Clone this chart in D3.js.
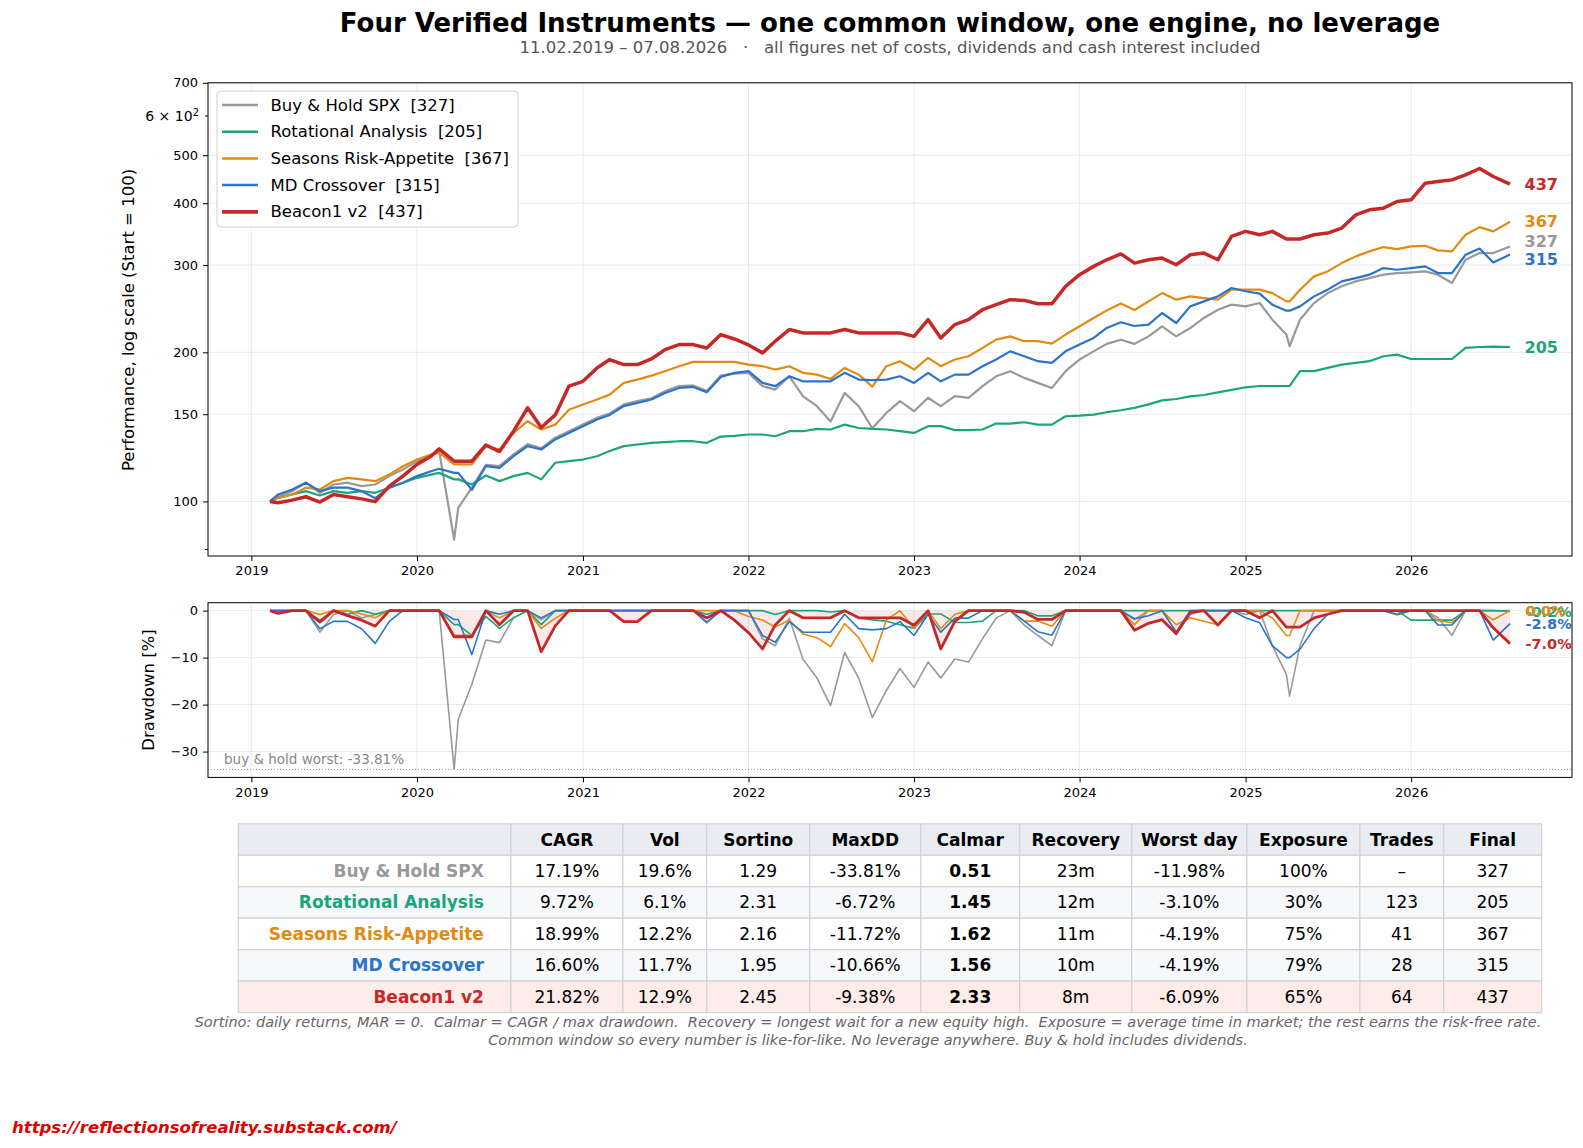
<!DOCTYPE html>
<html>
<head>
<meta charset="utf-8">
<script src="https://cdn.jsdelivr.net/npm/d3@7"></script>
<style>
body { margin: 0; background: #fff; }
svg { display: block; font-family: "DejaVu Sans", sans-serif; }
svg text { white-space: pre; }
</style>
</head>
<body>
<svg id="chart" width="1583" height="1148"></svg>
<script>
// values, roughly monthly plus a few turning points
var dates = ["2019-02-11","2019-03-01","2019-04-01","2019-05-01","2019-06-01","2019-07-01","2019-08-01","2019-09-01","2019-10-01","2019-11-01","2019-12-01",
  "2020-01-01","2020-02-01","2020-02-19","2020-03-23","2020-04-01","2020-05-01","2020-06-01","2020-07-01","2020-08-01","2020-09-01","2020-10-01","2020-11-01","2020-12-01",
  "2021-01-01","2021-02-01","2021-03-01","2021-04-01","2021-05-01","2021-06-01","2021-07-01","2021-08-01","2021-09-01","2021-10-01","2021-11-01","2021-12-01",
  "2022-01-01","2022-02-01","2022-03-01","2022-04-01","2022-05-01","2022-06-01","2022-07-01","2022-08-01","2022-09-01","2022-10-01","2022-11-01","2022-12-01",
  "2023-01-01","2023-02-01","2023-03-01","2023-04-01","2023-05-01","2023-06-01","2023-07-01","2023-08-01","2023-09-01","2023-10-01","2023-11-01","2023-12-01",
  "2024-01-01","2024-02-01","2024-03-01","2024-04-01","2024-05-01","2024-06-01","2024-07-01","2024-08-01","2024-09-01","2024-10-01","2024-11-01","2024-12-01",
  "2025-01-01","2025-02-01","2025-03-01","2025-04-01","2025-04-08","2025-05-01","2025-06-01","2025-07-01","2025-08-01","2025-09-01","2025-10-01","2025-11-01","2025-12-01",
  "2026-01-01","2026-02-01","2026-03-01","2026-04-01","2026-05-01","2026-06-01","2026-07-01","2026-08-07"];

var spxValues = [100,102.2,104.9,109.1,104.1,108.2,109.1,107.4,108.2,112.5,116,
  120.6,123.4,126.4,83.7,97.1,106.6,118.5,117.8,124.5,130.5,128,134.5,138.5,
  143,147.5,150.5,157,159.5,161.5,167,171,171.5,167,179.5,181.2,
  181.8,170.9,168.2,178.9,163.1,155.7,145,165.6,155.7,140.5,150.9,159.4,
  152.1,161.9,155.7,163.1,161.9,170.9,178.9,183.2,177.6,173.5,169.5,183.2,
  193.4,200.9,208,212,208,215.4,225.7,215.4,223.9,234.6,243.8,249.6,
  247.6,251.5,232.8,217.2,205.7,232.8,251.5,263.4,271.8,278.1,282.4,286.9,289.1,
  290,291.3,286.9,276,307.5,317.2,317.2,327];

var rotationalValues = [100,101.7,103.3,104.9,102.8,104.9,104.1,104.9,104.1,106.6,109.1,
  111.6,113.3,114.2,110.8,110.8,108.2,112.8,109.9,112.5,114.2,110.8,119.7,120.6,
  121.5,123.4,126.4,129.3,130.3,131.3,131.7,132.3,132.3,131.3,135.2,135.6,
  136.5,136.5,135.4,138.6,138.6,140.1,139.7,142.9,140.7,140.1,139.7,138.6,
  137.5,141.9,141.9,139.3,139.3,139.7,143.6,143.6,144.5,142.9,142.9,148.6,
  149,149.7,151.4,152.8,154.5,157,160,161,163,164,166,168,
  170,171,171,171,171,183.2,183.2,186,188.9,190.4,191.9,196.4,197.9,
  193.9,193.9,193.9,193.9,204.2,205,205.4,205];

var seasonsValues = [100,101.7,103.3,106.6,105.7,109.9,111.6,110.8,109.9,113.3,117.8,
  121.5,124.4,125.4,118.8,118.8,118.8,129.3,127.3,137.5,145.2,139.7,142.9,153.2,
  156.9,160.6,164.3,173.5,176.2,179.5,183.2,187.5,191.3,191.3,191.3,191.3,
  188.9,187.5,184.6,187.5,181.8,180.3,176.7,186,180.3,170.5,187.5,191.9,
  184.6,194.9,187.5,193.4,196.4,204.1,212.2,215.4,210.6,210.6,208.2,217.2,
  225.7,234.6,243,251,243.5,253.4,263.4,255.5,259.4,257.4,255.5,267.6,
  267.6,267.6,263.4,253.4,253.4,267.6,284.7,291.3,302.8,312.4,319.7,326.2,323.2,
  327.2,328.2,321.2,319.7,345.5,357.9,350.9,367];

var mdValues = [100,103.3,105.7,109.1,104.9,106.6,106.6,104.9,101.5,106.6,109.1,
  112.5,115.1,116.4,114.2,114.2,105.5,117.8,116.9,123.4,129.3,127.3,133.4,137.5,
  141.9,146.3,149.5,155.7,158.1,160.6,165.6,169.5,170.3,166.1,178.4,181.8,
  183.2,173.5,170.9,178.9,174.8,174.8,174.8,181.8,176.2,175.7,176.2,178.9,
  173.5,181.8,174.8,180.3,180.3,187.5,193.4,200.9,196.4,191.9,190.4,200.9,
  207.3,213.8,224,230,226,227.5,240.1,229.2,247.6,253.4,259.4,269.7,
  265.6,262.7,249.6,242.7,242.7,247.6,259.4,267.6,278.1,282.4,286.9,295.9,293.6,
  295.9,298.2,289.1,289.1,314.8,324,303.7,315];

var beaconValues = [100,99.4,100.6,102.2,99.7,103.3,102.2,101.2,99.9,107.4,112.5,
  118.8,123.4,127.7,120.6,120.6,120.6,130,126.1,138.6,154.5,141,149.5,170.9,
  174.8,186,193.4,188.9,188.9,193.9,202.5,207.3,207.3,204.1,217.2,212.8,
  207,199.5,210.6,222.3,218.9,218.9,218.9,222.3,218.9,218.9,218.9,218.9,
  215.4,232.8,213.8,227.5,232.8,243.8,249.6,255.5,254.6,250.7,250.7,271.8,
  286.9,298.2,307.5,316,302.8,307.5,309.9,300.5,314.8,317.2,307.5,342.7,
  350.9,345.5,350.9,338.6,338.6,338.6,345.5,348.2,356.3,378.9,387.8,390.9,403.1,
  406.3,438.9,442.3,445.8,456.3,470,452.8,437];

var seriesNames = ["Buy & Hold SPX", "Rotational Analysis", "Seasons Risk-Appetite", "MD Crossover", "Beacon1 v2"];
var seriesColors = ["#999999", "#1aa67a", "#e38a12", "#2a74cb", "#c62828"];

var metricColumns = ["CAGR", "Vol", "Sortino", "MaxDD", "Calmar", "Recovery", "Worst day", "Exposure", "Trades", "Final"];
var spxStats        = ["17.19%", "19.6%", "1.29", "-33.81%", "0.51", "23m", "-11.98%", "100%", "\u2013", "327"];
var rotationalStats = ["9.72%", "6.1%", "2.31", "-6.72%", "1.45", "12m", "-3.10%", "30%", "123", "205"];
var seasonsStats    = ["18.99%", "12.2%", "2.16", "-11.72%", "1.62", "11m", "-4.19%", "75%", "41", "367"];
var mdStats         = ["16.60%", "11.7%", "1.95", "-10.66%", "1.56", "10m", "-4.19%", "79%", "28", "315"];
var beaconStats     = ["21.82%", "12.9%", "2.45", "-9.38%", "2.33", "8m", "-6.09%", "65%", "64", "437"];

var yTicks = [100, 150, 200, 300, 400, 500, 700];
var ddTicks = [0, -10, -20, -30];

var parse = d3.timeParse("%Y-%m-%d");
var dd = dates.map(parse);
var allValues = [spxValues, rotationalValues, seasonsValues, mdValues, beaconValues];
var allStats = [spxStats, rotationalStats, seasonsStats, mdStats, beaconStats];

function drawdown(vals) {
  var peak = -Infinity;
  return vals.map(function (v) { peak = Math.max(peak, v); return (v / peak - 1) * 100; });
}

var series = seriesNames.map(function (n, i) {
  var vals = allValues[i];
  return {
    name: n, color: seriesColors[i], width: i === 4 ? 3.5 : 2.2, ddWidth: i === 4 ? 2.8 : 1.6,
    points: vals.map(function (v, k) { return { date: dd[k], v: v }; }),
    dd: drawdown(vals).map(function (v, k) { return { date: dd[k], v: v }; })
  };
});

var svg = d3.select("#chart");
var L = 208, R = 1572;
var t0 = dd[0], t1 = dd[dd.length - 1], span = t1 - t0;
var x = d3.scaleTime().domain([new Date(+t0 - 0.05 * span), new Date(+t1 + 0.05 * span)]).range([L, R]);
var y = d3.scaleLog().domain([77.6, 700]).range([556, 82.8]);
var yd = d3.scaleLinear().domain([-35.5, 1.69]).range([777.4, 602.7]);
var years = d3.range(2019, 2027).map(function (yr) { return new Date(yr, 0, 1); });

var defs = svg.append("defs");
defs.append("clipPath").attr("id", "clipMain").append("rect")
  .attr("x", L).attr("y", 82.8).attr("width", R - L).attr("height", 556 - 82.8);
defs.append("clipPath").attr("id", "clipDD").append("rect")
  .attr("x", L).attr("y", 602.7).attr("width", R - L).attr("height", 777.4 - 602.7);

// title
svg.append("text").attr("x", 890).attr("y", 22.5).attr("text-anchor", "middle").attr("dominant-baseline", "central")
  .style("font-size", "26px").style("font-weight", "bold")
  .text("Four Verified Instruments \u2014 one common window, one engine, no leverage");
svg.append("text").attr("x", 890).attr("y", 47).attr("text-anchor", "middle").attr("dominant-baseline", "central")
  .style("font-size", "16.5px").attr("fill", "#555")
  .text("11.02.2019 \u2013 07.08.2026   \u00b7   all figures net of costs, dividends and cash interest included");

// ---------- main panel ----------
var gMain = svg.append("g");
gMain.selectAll(".gx").data(years).enter().append("line")
  .attr("x1", function (d) { return x(d); }).attr("x2", function (d) { return x(d); })
  .attr("y1", 82.8).attr("y2", 556).attr("stroke", "#e4e4e4").attr("stroke-width", 0.8);
gMain.selectAll(".gy").data(yTicks).enter().append("line")
  .attr("x1", L).attr("x2", R).attr("y1", function (d) { return y(d); }).attr("y2", function (d) { return y(d); })
  .attr("stroke", "#e4e4e4").attr("stroke-width", 0.8);

var line = d3.line().x(function (d) { return x(d.date); }).y(function (d) { return y(d.v); });
gMain.append("g").attr("clip-path", "url(#clipMain)").selectAll("path").data(series).enter().append("path")
  .attr("d", function (d) { return line(d.points); })
  .attr("fill", "none").attr("stroke", function (d) { return d.color; })
  .attr("stroke-width", function (d) { return d.width; }).attr("stroke-linejoin", "round");

gMain.append("rect").attr("x", L).attr("y", 82.8).attr("width", R - L).attr("height", 556 - 82.8)
  .attr("fill", "none").attr("stroke", "#000").attr("stroke-width", 1);

var xAxisMain = gMain.append("g").attr("transform", "translate(0,556)")
  .call(d3.axisBottom(x).tickValues(years).tickFormat(d3.timeFormat("%Y")).tickSize(5).tickPadding(5));
var yAxisMain = gMain.append("g").attr("transform", "translate(" + L + ",0)")
  .call(d3.axisLeft(y).tickValues(yTicks).tickFormat(d3.format("d")).tickSize(5).tickPadding(5));
[xAxisMain, yAxisMain].forEach(function (a) {
  a.select(".domain").remove();
  a.selectAll("text").style("font-size", "13px").style("font-family", "DejaVu Sans").attr("fill", "#000");
});
// minor ticks of the log axis: 80 unlabeled, 600 labeled the matplotlib way
gMain.append("line").attr("x1", L - 3).attr("x2", L).attr("y1", y(80)).attr("y2", y(80)).attr("stroke", "#000");
gMain.append("line").attr("x1", L - 3).attr("x2", L).attr("y1", y(600)).attr("y2", y(600)).attr("stroke", "#000");
var six = gMain.append("text").attr("x", L - 9).attr("y", y(600)).attr("dy", "0.35em")
  .attr("text-anchor", "end").style("font-size", "14px");
six.append("tspan").text("6 \u00d7 10");
six.append("tspan").attr("dy", "-0.45em").style("font-size", "10px").text("2");

svg.append("text").attr("transform", "translate(128,320) rotate(-90)").attr("text-anchor", "middle")
  .attr("dominant-baseline", "central").style("font-size", "16.5px").text("Performance, log scale (Start = 100)");

// end labels, nudged apart so they do not overlap
var endLabels = series.map(function (s) {
  var last = s.points[s.points.length - 1].v;
  return { text: d3.format("d")(Math.round(last)), color: s.color, y: y(last) };
});
var sorted = endLabels.slice().sort(function (a, b) { return a.y - b.y; });
for (var it = 0; it < 60; it++) {
  for (var i = 1; i < sorted.length; i++) {
    var gap = sorted[i].y - sorted[i - 1].y;
    if (gap < 18) { var s = (18 - gap) / 2; sorted[i].y += s; sorted[i - 1].y -= s; }
  }
}
gMain.selectAll(".endlab").data(endLabels).enter().append("text")
  .attr("x", 1524.5).attr("y", function (d) { return d.y; }).attr("dominant-baseline", "central")
  .style("font-size", "16px").style("font-weight", "bold").attr("fill", function (d) { return d.color; })
  .text(function (d) { return d.text; });

// legend
var leg = gMain.append("g");
leg.append("rect").attr("x", 217).attr("y", 91).attr("width", 301).attr("height", 136).attr("rx", 4)
  .attr("fill", "#fff").attr("fill-opacity", 0.9).attr("stroke", "#d0d0d0");
var legRows = leg.selectAll(".lr").data(series).enter().append("g")
  .attr("transform", function (d, i) { return "translate(0," + (105 + i * 26.7) + ")"; });
legRows.append("line").attr("x1", 222).attr("x2", 258).attr("stroke", function (d) { return d.color; })
  .attr("stroke-width", function (d) { return d.width + 0.3; });
legRows.append("text").attr("x", 270.5).attr("dominant-baseline", "central").style("font-size", "16.5px")
  .text(function (d) { return d.name + "  [" + Math.round(d.points[d.points.length - 1].v) + "]"; });

// ---------- drawdown panel ----------
var gDD = svg.append("g");
gDD.selectAll(".gx").data(years).enter().append("line")
  .attr("x1", function (d) { return x(d); }).attr("x2", function (d) { return x(d); })
  .attr("y1", 602.7).attr("y2", 777.4).attr("stroke", "#e4e4e4").attr("stroke-width", 0.8);
gDD.selectAll(".gy").data(ddTicks).enter().append("line")
  .attr("x1", L).attr("x2", R).attr("y1", function (d) { return yd(d); }).attr("y2", function (d) { return yd(d); })
  .attr("stroke", "#e4e4e4").attr("stroke-width", 0.8);

var ddLine = d3.line().x(function (d) { return x(d.date); }).y(function (d) { return yd(d.v); });
var ddArea = d3.area().x(function (d) { return x(d.date); }).y0(yd(0)).y1(function (d) { return yd(d.v); });
var ddClip = gDD.append("g").attr("clip-path", "url(#clipDD)");
ddClip.append("path").attr("d", ddArea(series[4].dd)).attr("fill", "#c62828").attr("fill-opacity", 0.1);
ddClip.selectAll(".ddl").data(series).enter().append("path")
  .attr("d", function (d) { return ddLine(d.dd); })
  .attr("fill", "none").attr("stroke", function (d) { return d.color; })
  .attr("stroke-width", function (d) { return d.ddWidth; }).attr("stroke-linejoin", "round");

var worst = parseFloat(spxStats[3]);
gDD.append("line").attr("x1", L).attr("x2", R).attr("y1", yd(worst)).attr("y2", yd(worst))
  .attr("stroke", "#999").attr("stroke-width", 1).attr("stroke-dasharray", "1,2");
gDD.append("text").attr("x", 224).attr("y", 759).attr("dominant-baseline", "central")
  .style("font-size", "13.5px").attr("fill", "#888").text("buy & hold worst: " + spxStats[3]);

gDD.append("rect").attr("x", L).attr("y", 602.7).attr("width", R - L).attr("height", 777.4 - 602.7)
  .attr("fill", "none").attr("stroke", "#000").attr("stroke-width", 1);

var xAxisDD = gDD.append("g").attr("transform", "translate(0,777.4)")
  .call(d3.axisBottom(x).tickValues(years).tickFormat(d3.timeFormat("%Y")).tickSize(5).tickPadding(5));
var yAxisDD = gDD.append("g").attr("transform", "translate(" + L + ",0)")
  .call(d3.axisLeft(yd).tickValues(ddTicks).tickFormat(function (d) { return d < 0 ? "\u2212" + Math.abs(d) : d; })
    .tickSize(5).tickPadding(5));
[xAxisDD, yAxisDD].forEach(function (a) {
  a.select(".domain").remove();
  a.selectAll("text").style("font-size", "13px").style("font-family", "DejaVu Sans").attr("fill", "#000");
});
svg.append("text").attr("transform", "translate(148.5,690) rotate(-90)").attr("text-anchor", "middle")
  .attr("dominant-baseline", "central").style("font-size", "16.5px").text("Drawdown [%]");

gDD.selectAll(".ddlab").data(series).enter().append("text")
  .attr("x", 1525.5).attr("y", function (d) { return yd(d.dd[d.dd.length - 1].v); }).attr("dominant-baseline", "central")
  .style("font-size", "14.5px").style("font-weight", "bold").attr("fill", function (d) { return d.color; })
  .text(function (d) { return d.dd[d.dd.length - 1].v.toFixed(1) + "%"; });

// ---------- stats table ----------
var colEdges = [238.3, 510.9, 622.9, 706.7, 809.7, 920.8, 1019.7, 1131.8, 1246.9, 1359.9, 1443.7, 1541.7];
var rowTop = 823.8, rowH = 31.47;
var rowFill = ["#ffffff", "#f6f8fa", "#ffffff", "#f6f8fa", "#fdecea"];
var gT = svg.append("g");

function cell(r, c, fill) {
  gT.append("rect").attr("x", colEdges[c]).attr("y", rowTop + r * rowH)
    .attr("width", colEdges[c + 1] - colEdges[c]).attr("height", rowH)
    .attr("fill", fill).attr("stroke", "#cfd3d8").attr("stroke-width", 1.2);
}
for (var c = 0; c < 11; c++) cell(0, c, "#e9edf2");
metricColumns.forEach(function (h, c) {
  gT.append("text").attr("x", (colEdges[c + 1] + colEdges[c + 2]) / 2).attr("y", rowTop + rowH / 2)
    .attr("text-anchor", "middle").attr("dominant-baseline", "central")
    .style("font-size", "17px").style("font-weight", "bold").text(h);
});
series.forEach(function (s, r) {
  for (var c = 0; c < 11; c++) cell(r + 1, c, rowFill[r]);
  var cy = rowTop + (r + 1.5) * rowH;
  gT.append("text").attr("x", colEdges[1] - 27).attr("y", cy).attr("text-anchor", "end").attr("dominant-baseline", "central")
    .style("font-size", "17px").style("font-weight", "bold").attr("fill", s.color).text(s.name);
  allStats[r].forEach(function (v, c) {
    gT.append("text").attr("x", (colEdges[c + 1] + colEdges[c + 2]) / 2).attr("y", cy)
      .attr("text-anchor", "middle").attr("dominant-baseline", "central")
      .style("font-size", "17px").style("font-weight", metricColumns[c] === "Calmar" ? "bold" : "normal").text(v);
  });
});

svg.append("text").attr("x", 868).attr("y", 1021.5).attr("text-anchor", "middle").attr("dominant-baseline", "central")
  .style("font-size", "14.5px").style("font-style", "italic").attr("fill", "#666")
  .text("Sortino: daily returns, MAR = 0.  Calmar = CAGR / max drawdown.  Recovery = longest wait for a new equity high.  Exposure = average time in market; the rest earns the risk-free rate.");
svg.append("text").attr("x", 868).attr("y", 1040).attr("text-anchor", "middle").attr("dominant-baseline", "central")
  .style("font-size", "14.5px").style("font-style", "italic").attr("fill", "#666")
  .text("Common window so every number is like-for-like. No leverage anywhere. Buy & hold includes dividends.");

svg.append("text").attr("x", 12).attr("y", 1127).attr("dominant-baseline", "central")
  .style("font-size", "16.5px").style("font-weight", "bold").style("font-style", "italic").attr("fill", "#e00000")
  .text("https://reflectionsofreality.substack.com/");
</script>
</body>
</html>
